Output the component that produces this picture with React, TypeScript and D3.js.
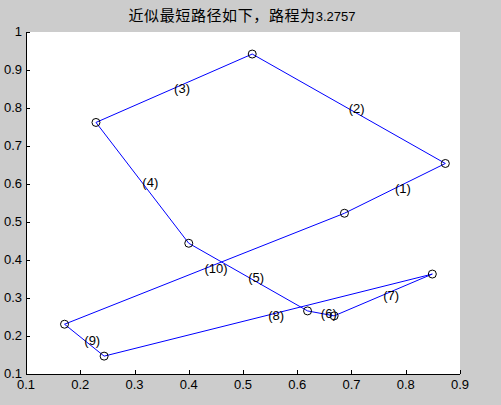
import * as d3 from 'd3';

// city coordinates in visiting order (route closes back to the first city)
const cityX = [0.687, 0.873, 0.517, 0.229, 0.4, 0.619, 0.668, 0.849, 0.244, 0.171];
const cityY = [0.523, 0.654, 0.942, 0.762, 0.444, 0.266, 0.253, 0.363, 0.147, 0.231];
const xTicks = [0.1, 0.2, 0.3, 0.4, 0.5, 0.6, 0.7, 0.8, 0.9];
const yTicks = [0.1, 0.2, 0.3, 0.4, 0.5, 0.6, 0.7, 0.8, 0.9, 1];
const titleText = '近似最短路径如下，路程为';
const routeLength = '3.2757';

const W = 501;
const H = 405;
const margin = { top: 32, right: 41, bottom: 31, left: 26 };
const FONT = 'Arial, "Liberation Sans", sans-serif';

export default function App() {
  const x = d3.scaleLinear().domain([0.1, 0.9]).range([margin.left, W - margin.right]);
  const y = d3.scaleLinear().domain([0.1, 1]).range([H - margin.bottom, margin.top]);

  const pts = cityX.map((cx, i) => [cx, cityY[i]] as [number, number]);
  const closed = [...pts, pts[0]];
  const line = d3.line<[number, number]>().x((d) => x(d[0])).y((d) => y(d[1]));

  const edges = pts.map((p, i) => {
    const q = closed[i + 1];
    return { mx: (p[0] + q[0]) / 2, my: (p[1] + q[1]) / 2, label: `(${i + 1})` };
  });

  const x0 = x(0.1);
  const y0 = y(0.1);

  return (
    <svg width={W} height={H} style={{ position: 'absolute', left: 0, top: 0 }}>
      <rect width={W} height={H} fill="#cccccc" />
      <rect x={x(0.1)} y={y(1)} width={x(0.9) - x(0.1)} height={y(0.1) - y(1)} fill="#ffffff" />

      {/* title */}
      <text x={(x(0.1) + x(0.9)) / 2 - 1} y={21} textAnchor="middle" fill="#000" fontSize={15}>
        <tspan fontFamily='"Noto Sans CJK SC", sans-serif' letterSpacing={0.6}>{titleText}</tspan>
        <tspan fontFamily={FONT} fontSize={13}>{routeLength}</tspan>
      </text>

      {/* route */}
      <path d={line(closed) ?? ''} fill="none" stroke="#0000ff" strokeWidth={1} />
      {pts.map((p, i) => (
        <circle key={i} cx={x(p[0])} cy={y(p[1])} r={4} fill="none" stroke="#000" strokeWidth={1} />
      ))}
      {edges.map((e, i) => (
        <text key={i} x={x(e.mx)} y={y(e.my)} dy="0.35em" fontFamily={FONT} fontSize={13} fill="#000">
          {e.label}
        </text>
      ))}

      {/* axes */}
      <line x1={x0} x2={x(0.9)} y1={y0 + 0.5} y2={y0 + 0.5} stroke="#000" />
      <line x1={x0 + 0.5} x2={x0 + 0.5} y1={y(1)} y2={y0} stroke="#000" />
      {xTicks.map((t) => (
        <g key={t}>
          <line x1={Math.round(x(t)) + 0.5} x2={Math.round(x(t)) + 0.5} y1={y0} y2={y0 - 4} stroke="#000" />
          <text x={x(t)} y={y0 + 15} textAnchor="middle" fontFamily={FONT} fontSize={13} fill="#000">
            {t}
          </text>
        </g>
      ))}
      {yTicks.map((t) => (
        <g key={t}>
          <line x1={x0} x2={x0 + 4} y1={Math.round(y(t)) + 0.5} y2={Math.round(y(t)) + 0.5} stroke="#000" />
          <text x={x0 - 4} y={y(t)} dy="0.3em" textAnchor="end" fontFamily={FONT} fontSize={13} fill="#000">
            {t}
          </text>
        </g>
      ))}
    </svg>
  );
}
